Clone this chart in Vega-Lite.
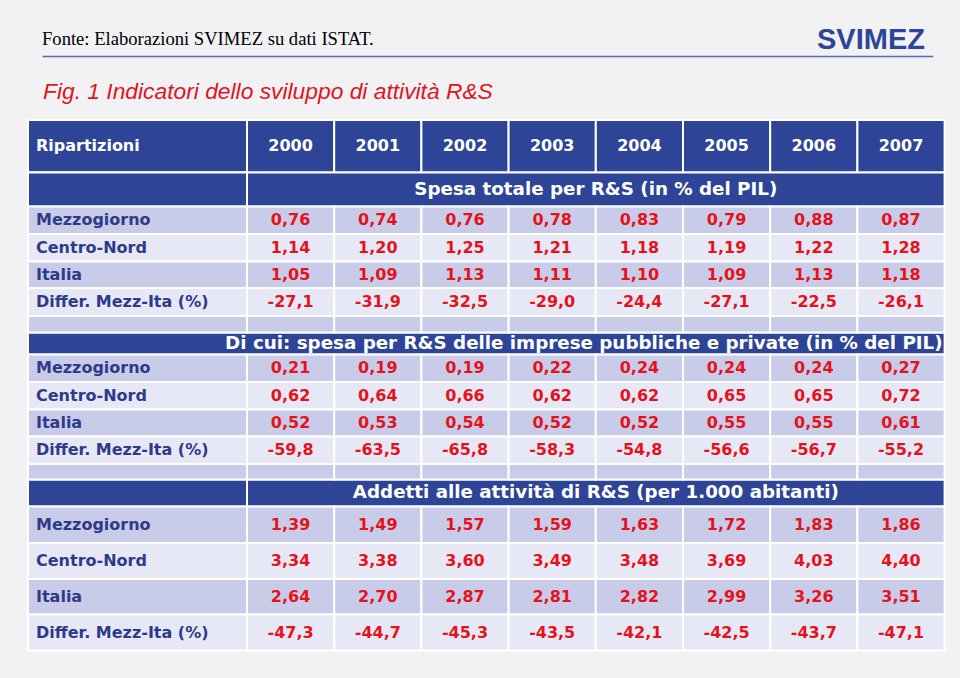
{
  "$schema": "https://vega.github.io/schema/vega-lite/v6.json",
  "width": 960,
  "height": 678,
  "autosize": {"type": "fit", "contains": "padding"},
  "padding": 0,
  "background": "#f2f2f4",
  "config": {
    "view": {"stroke": null},
    "axis": {"disable": true},
    "locale": {"number": {"decimal": ",", "thousands": ".", "grouping": [3], "currency": ["€", ""], "minus": "-"}}
  },
  "datasets": {
    "table": [
      {"row": 2, "region": "Mezzogiorno", "2000": 0.76, "2001": 0.74, "2002": 0.76, "2003": 0.78, "2004": 0.83, "2005": 0.79, "2006": 0.88, "2007": 0.87},
      {"row": 3, "region": "Centro-Nord", "2000": 1.14, "2001": 1.20, "2002": 1.25, "2003": 1.21, "2004": 1.18, "2005": 1.19, "2006": 1.22, "2007": 1.28},
      {"row": 4, "region": "Italia", "2000": 1.05, "2001": 1.09, "2002": 1.13, "2003": 1.11, "2004": 1.10, "2005": 1.09, "2006": 1.13, "2007": 1.18},
      {"row": 5, "region": "Differ. Mezz-Ita (%)", "2000": -27.1, "2001": -31.9, "2002": -32.5, "2003": -29.0, "2004": -24.4, "2005": -27.1, "2006": -22.5, "2007": -26.1},
      {"row": 8, "region": "Mezzogiorno", "2000": 0.21, "2001": 0.19, "2002": 0.19, "2003": 0.22, "2004": 0.24, "2005": 0.24, "2006": 0.24, "2007": 0.27},
      {"row": 9, "region": "Centro-Nord", "2000": 0.62, "2001": 0.64, "2002": 0.66, "2003": 0.62, "2004": 0.62, "2005": 0.65, "2006": 0.65, "2007": 0.72},
      {"row": 10, "region": "Italia", "2000": 0.52, "2001": 0.53, "2002": 0.54, "2003": 0.52, "2004": 0.52, "2005": 0.55, "2006": 0.55, "2007": 0.61},
      {"row": 11, "region": "Differ. Mezz-Ita (%)", "2000": -59.8, "2001": -63.5, "2002": -65.8, "2003": -58.3, "2004": -54.8, "2005": -56.6, "2006": -56.7, "2007": -55.2},
      {"row": 14, "region": "Mezzogiorno", "2000": 1.39, "2001": 1.49, "2002": 1.57, "2003": 1.59, "2004": 1.63, "2005": 1.72, "2006": 1.83, "2007": 1.86},
      {"row": 15, "region": "Centro-Nord", "2000": 3.34, "2001": 3.38, "2002": 3.60, "2003": 3.49, "2004": 3.48, "2005": 3.69, "2006": 4.03, "2007": 4.40},
      {"row": 16, "region": "Italia", "2000": 2.64, "2001": 2.70, "2002": 2.87, "2003": 2.81, "2004": 2.82, "2005": 2.99, "2006": 3.26, "2007": 3.51},
      {"row": 17, "region": "Differ. Mezz-Ita (%)", "2000": -47.3, "2001": -44.7, "2002": -45.3, "2003": -43.5, "2004": -42.1, "2005": -42.5, "2006": -43.7, "2007": -47.1}
    ],
    "sections": [
      {"row": 1, "title": "Spesa totale per R&S (in % del PIL)"},
      {"row": 7, "title": "Di cui: spesa per R&S delle imprese pubbliche e private (in % del PIL)"},
      {"row": 13, "title": "Addetti alle attività di R&S (per 1.000 abitanti)"}
    ],
    "years": [
      {"label": "2000"}, {"label": "2001"}, {"label": "2002"}, {"label": "2003"},
      {"label": "2004"}, {"label": "2005"}, {"label": "2006"}, {"label": "2007"}
    ],
    "spacers": [
      {"row": 6, "label": "2000"}, {"row": 6, "label": "2001"}, {"row": 6, "label": "2002"}, {"row": 6, "label": "2003"},
      {"row": 6, "label": "2004"}, {"row": 6, "label": "2005"}, {"row": 6, "label": "2006"}, {"row": 6, "label": "2007"},
      {"row": 12, "label": "2000"}, {"row": 12, "label": "2001"}, {"row": 12, "label": "2002"}, {"row": 12, "label": "2003"},
      {"row": 12, "label": "2004"}, {"row": 12, "label": "2005"}, {"row": 12, "label": "2006"}, {"row": 12, "label": "2007"}
    ]
  },
  "layer": [
    {
      "data": {"values": [{"t": "Fonte: Elaborazioni SVIMEZ su dati ISTAT."}]},
      "mark": {"type": "text", "align": "left", "baseline": "alphabetic", "dx": 14, "font": "Liberation Serif", "fontSize": 18.6, "fill": "#000000"},
      "encoding": {
        "x": {"datum": 1998, "scale": {"domain": [1998, 1999.5, 2000.5, 2001.5, 2002.5, 2003.5, 2004.5, 2005.5, 2006.5, 2007.5], "range": [28, 247, 334.2, 421.4, 508.6, 595.8, 683, 770.2, 857.4, 944.6], "zero": false, "nice": false}, "axis": null},
        "y": {"datum": -7.5, "scale": {"domain": [-12, 0, 1, 2, 3, 4, 5, 6, 7, 8, 9, 10, 11, 12, 13, 14, 15, 16, 17, 18], "range": [0, 120, 172.5, 206.5, 234, 261.5, 288, 316, 332.5, 354.5, 382, 409.5, 436.5, 464, 479.5, 506.5, 543, 579, 614.5, 650.5], "zero": false, "nice": false}, "axis": null},
        "text": {"field": "t"}
      }
    },
    {
      "data": {"values": [{"t": "SVIMEZ"}]},
      "mark": {"type": "text", "align": "right", "baseline": "alphabetic", "dx": -19.6, "font": "Liberation Sans", "fontWeight": "bold", "fontSize": 29, "fill": "#2E4597"},
      "encoding": {
        "x": {"datum": 2007.5},
        "y": {"datum": -7.1},
        "text": {"field": "t"}
      }
    },
    {
      "data": {"values": [{"t": "line"}]},
      "mark": {"type": "rule", "stroke": "#5E6AB2", "strokeWidth": 1.5},
      "encoding": {
        "x": {"datum": 1998.1},
        "x2": {"datum": 2007.37},
        "y": {"datum": -6.35}
      }
    },
    {
      "data": {"values": [{"t": "Fig. 1 Indicatori dello sviluppo di attività R&S"}]},
      "mark": {"type": "text", "align": "left", "baseline": "alphabetic", "dx": 15, "font": "Liberation Sans", "fontStyle": "italic", "fontSize": 22.8, "fill": "#E0141E"},
      "encoding": {
        "x": {"datum": 1998},
        "y": {"datum": -2.1},
        "text": {"field": "t"}
      }
    },
    {
      "data": {"values": [{"t": "Ripartizioni"}]},
      "mark": {"type": "rect", "fill": "#2E4597", "stroke": "white", "strokeWidth": 2},
      "encoding": {
        "x": {"datum": 1998}, "x2": {"datum": 1999.5},
        "y": {"datum": 0}, "y2": {"datum": 1}
      }
    },
    {
      "data": {"values": [{"t": "Ripartizioni"}]},
      "mark": {"type": "text", "align": "left", "baseline": "middle", "dx": 8, "font": "DejaVu Sans", "fontWeight": "bold", "fontSize": 16, "fill": "white"},
      "encoding": {
        "x": {"datum": 1998},
        "y": {"datum": 0.5},
        "text": {"field": "t"}
      }
    },
    {
      "data": {"name": "years"},
      "transform": [
        {"calculate": "toNumber(datum.label)", "as": "year"},
        {"calculate": "datum.year - 0.5", "as": "x_lo"},
        {"calculate": "datum.year + 0.5", "as": "x_hi"}
      ],
      "mark": {"type": "rect", "fill": "#2E4597", "stroke": "white", "strokeWidth": 2},
      "encoding": {
        "x": {"field": "x_lo", "type": "quantitative"}, "x2": {"field": "x_hi"},
        "y": {"datum": 0}, "y2": {"datum": 1}
      }
    },
    {
      "data": {"name": "years"},
      "transform": [{"calculate": "toNumber(datum.label)", "as": "year"}],
      "mark": {"type": "text", "align": "center", "baseline": "middle", "font": "DejaVu Sans", "fontWeight": "bold", "fontSize": 16, "fill": "white"},
      "encoding": {
        "x": {"field": "year", "type": "quantitative"},
        "y": {"datum": 0.5},
        "text": {"field": "label", "type": "nominal"}
      }
    },
    {
      "data": {"name": "sections"},
      "transform": [{"calculate": "datum.row + 1", "as": "row_end"}],
      "mark": {"type": "rect", "fill": "#2E4597", "stroke": "white", "strokeWidth": 2},
      "encoding": {
        "x": {"datum": 1998}, "x2": {"datum": 2007.5},
        "y": {"field": "row", "type": "quantitative"}, "y2": {"field": "row_end"}
      }
    },
    {
      "data": {"name": "sections"},
      "transform": [
        {"filter": "datum.row !== 7"},
        {"calculate": "datum.row + 1", "as": "row_end"}
      ],
      "mark": {"type": "rect", "fill": "#2E4597", "stroke": "white", "strokeWidth": 2},
      "encoding": {
        "x": {"datum": 1998}, "x2": {"datum": 1999.5},
        "y": {"field": "row", "type": "quantitative"}, "y2": {"field": "row_end"}
      }
    },
    {
      "data": {"name": "sections"},
      "transform": [
        {"filter": "datum.row !== 7"},
        {"calculate": "datum.row + 0.5", "as": "row_mid"}
      ],
      "mark": {"type": "text", "align": "center", "baseline": "middle", "font": "DejaVu Sans", "fontWeight": "bold", "fontSize": 18.3, "fill": "white"},
      "encoding": {
        "x": {"datum": 2003.5},
        "y": {"field": "row_mid", "type": "quantitative"},
        "text": {"field": "title"}
      }
    },
    {
      "data": {"name": "sections"},
      "transform": [
        {"filter": "datum.row === 7"},
        {"calculate": "datum.row + 0.5", "as": "row_mid"}
      ],
      "mark": {"type": "text", "align": "right", "baseline": "middle", "dx": -2, "font": "DejaVu Sans", "fontWeight": "bold", "fontSize": 18.3, "fill": "white"},
      "encoding": {
        "x": {"datum": 2007.5},
        "y": {"field": "row_mid", "type": "quantitative"},
        "text": {"field": "title"}
      }
    },
    {
      "data": {"name": "spacers"},
      "transform": [
        {"calculate": "toNumber(datum.label)", "as": "year"},
        {"calculate": "datum.year - 0.5", "as": "x_lo"},
        {"calculate": "datum.year + 0.5", "as": "x_hi"},
        {"calculate": "datum.row + 1", "as": "row_end"}
      ],
      "mark": {"type": "rect", "fill": "#C9CCE9", "stroke": "white", "strokeWidth": 2},
      "encoding": {
        "x": {"field": "x_lo", "type": "quantitative"}, "x2": {"field": "x_hi"},
        "y": {"field": "row", "type": "quantitative"}, "y2": {"field": "row_end"}
      }
    },
    {
      "data": {"name": "spacers"},
      "transform": [
        {"filter": "datum.label === '2000'"},
        {"calculate": "datum.row + 1", "as": "row_end"}
      ],
      "mark": {"type": "rect", "fill": "#C9CCE9", "stroke": "white", "strokeWidth": 2},
      "encoding": {
        "x": {"datum": 1998}, "x2": {"datum": 1999.5},
        "y": {"field": "row", "type": "quantitative"}, "y2": {"field": "row_end"}
      }
    },
    {
      "data": {"name": "table"},
      "transform": [{"calculate": "datum.row + 1", "as": "row_end"}],
      "mark": {"type": "rect", "stroke": "white", "strokeWidth": 2},
      "encoding": {
        "x": {"datum": 1998}, "x2": {"datum": 1999.5},
        "y": {"field": "row", "type": "quantitative"}, "y2": {"field": "row_end"},
        "fill": {"field": "region", "type": "nominal", "legend": null, "scale": {"domain": ["Mezzogiorno", "Centro-Nord", "Italia", "Differ. Mezz-Ita (%)"], "range": ["#C9CCE9", "#E7E8F5", "#C9CCE9", "#E7E8F5"]}}
      }
    },
    {
      "data": {"name": "table"},
      "transform": [{"calculate": "datum.row + 0.5", "as": "row_mid"}],
      "mark": {"type": "text", "align": "left", "baseline": "middle", "dx": 8, "font": "DejaVu Sans", "fontWeight": "bold", "fontSize": 16, "fill": "#2E3A8A"},
      "encoding": {
        "x": {"datum": 1998},
        "y": {"field": "row_mid", "type": "quantitative"},
        "text": {"field": "region"}
      }
    },
    {
      "data": {"name": "table"},
      "transform": [
        {"fold": ["2000", "2001", "2002", "2003", "2004", "2005", "2006", "2007"]},
        {"calculate": "toNumber(datum.key)", "as": "year"},
        {"calculate": "datum.year - 0.5", "as": "x_lo"},
        {"calculate": "datum.year + 0.5", "as": "x_hi"},
        {"calculate": "datum.row + 1", "as": "row_end"}
      ],
      "mark": {"type": "rect", "stroke": "white", "strokeWidth": 2},
      "encoding": {
        "x": {"field": "x_lo", "type": "quantitative"}, "x2": {"field": "x_hi"},
        "y": {"field": "row", "type": "quantitative"}, "y2": {"field": "row_end"},
        "fill": {"field": "region", "type": "nominal", "legend": null}
      }
    },
    {
      "data": {"name": "table"},
      "transform": [
        {"filter": {"not": {"field": "region", "equal": "Differ. Mezz-Ita (%)"}}},
        {"fold": ["2000", "2001", "2002", "2003", "2004", "2005", "2006", "2007"]},
        {"calculate": "toNumber(datum.key)", "as": "year"},
        {"calculate": "datum.row + 0.5", "as": "row_mid"}
      ],
      "mark": {"type": "text", "align": "center", "baseline": "middle", "font": "DejaVu Sans", "fontWeight": "bold", "fontSize": 16, "fill": "#E5121C"},
      "encoding": {
        "x": {"field": "year", "type": "quantitative"},
        "y": {"field": "row_mid", "type": "quantitative"},
        "text": {"field": "value", "type": "quantitative", "format": ".2f"}
      }
    },
    {
      "data": {"name": "table"},
      "transform": [
        {"filter": {"field": "region", "equal": "Differ. Mezz-Ita (%)"}},
        {"fold": ["2000", "2001", "2002", "2003", "2004", "2005", "2006", "2007"]},
        {"calculate": "toNumber(datum.key)", "as": "year"},
        {"calculate": "datum.row + 0.5", "as": "row_mid"}
      ],
      "mark": {"type": "text", "align": "center", "baseline": "middle", "font": "DejaVu Sans", "fontWeight": "bold", "fontSize": 16, "fill": "#E5121C"},
      "encoding": {
        "x": {"field": "year", "type": "quantitative"},
        "y": {"field": "row_mid", "type": "quantitative"},
        "text": {"field": "value", "type": "quantitative", "format": ".1f"}
      }
    }
  ]
}
